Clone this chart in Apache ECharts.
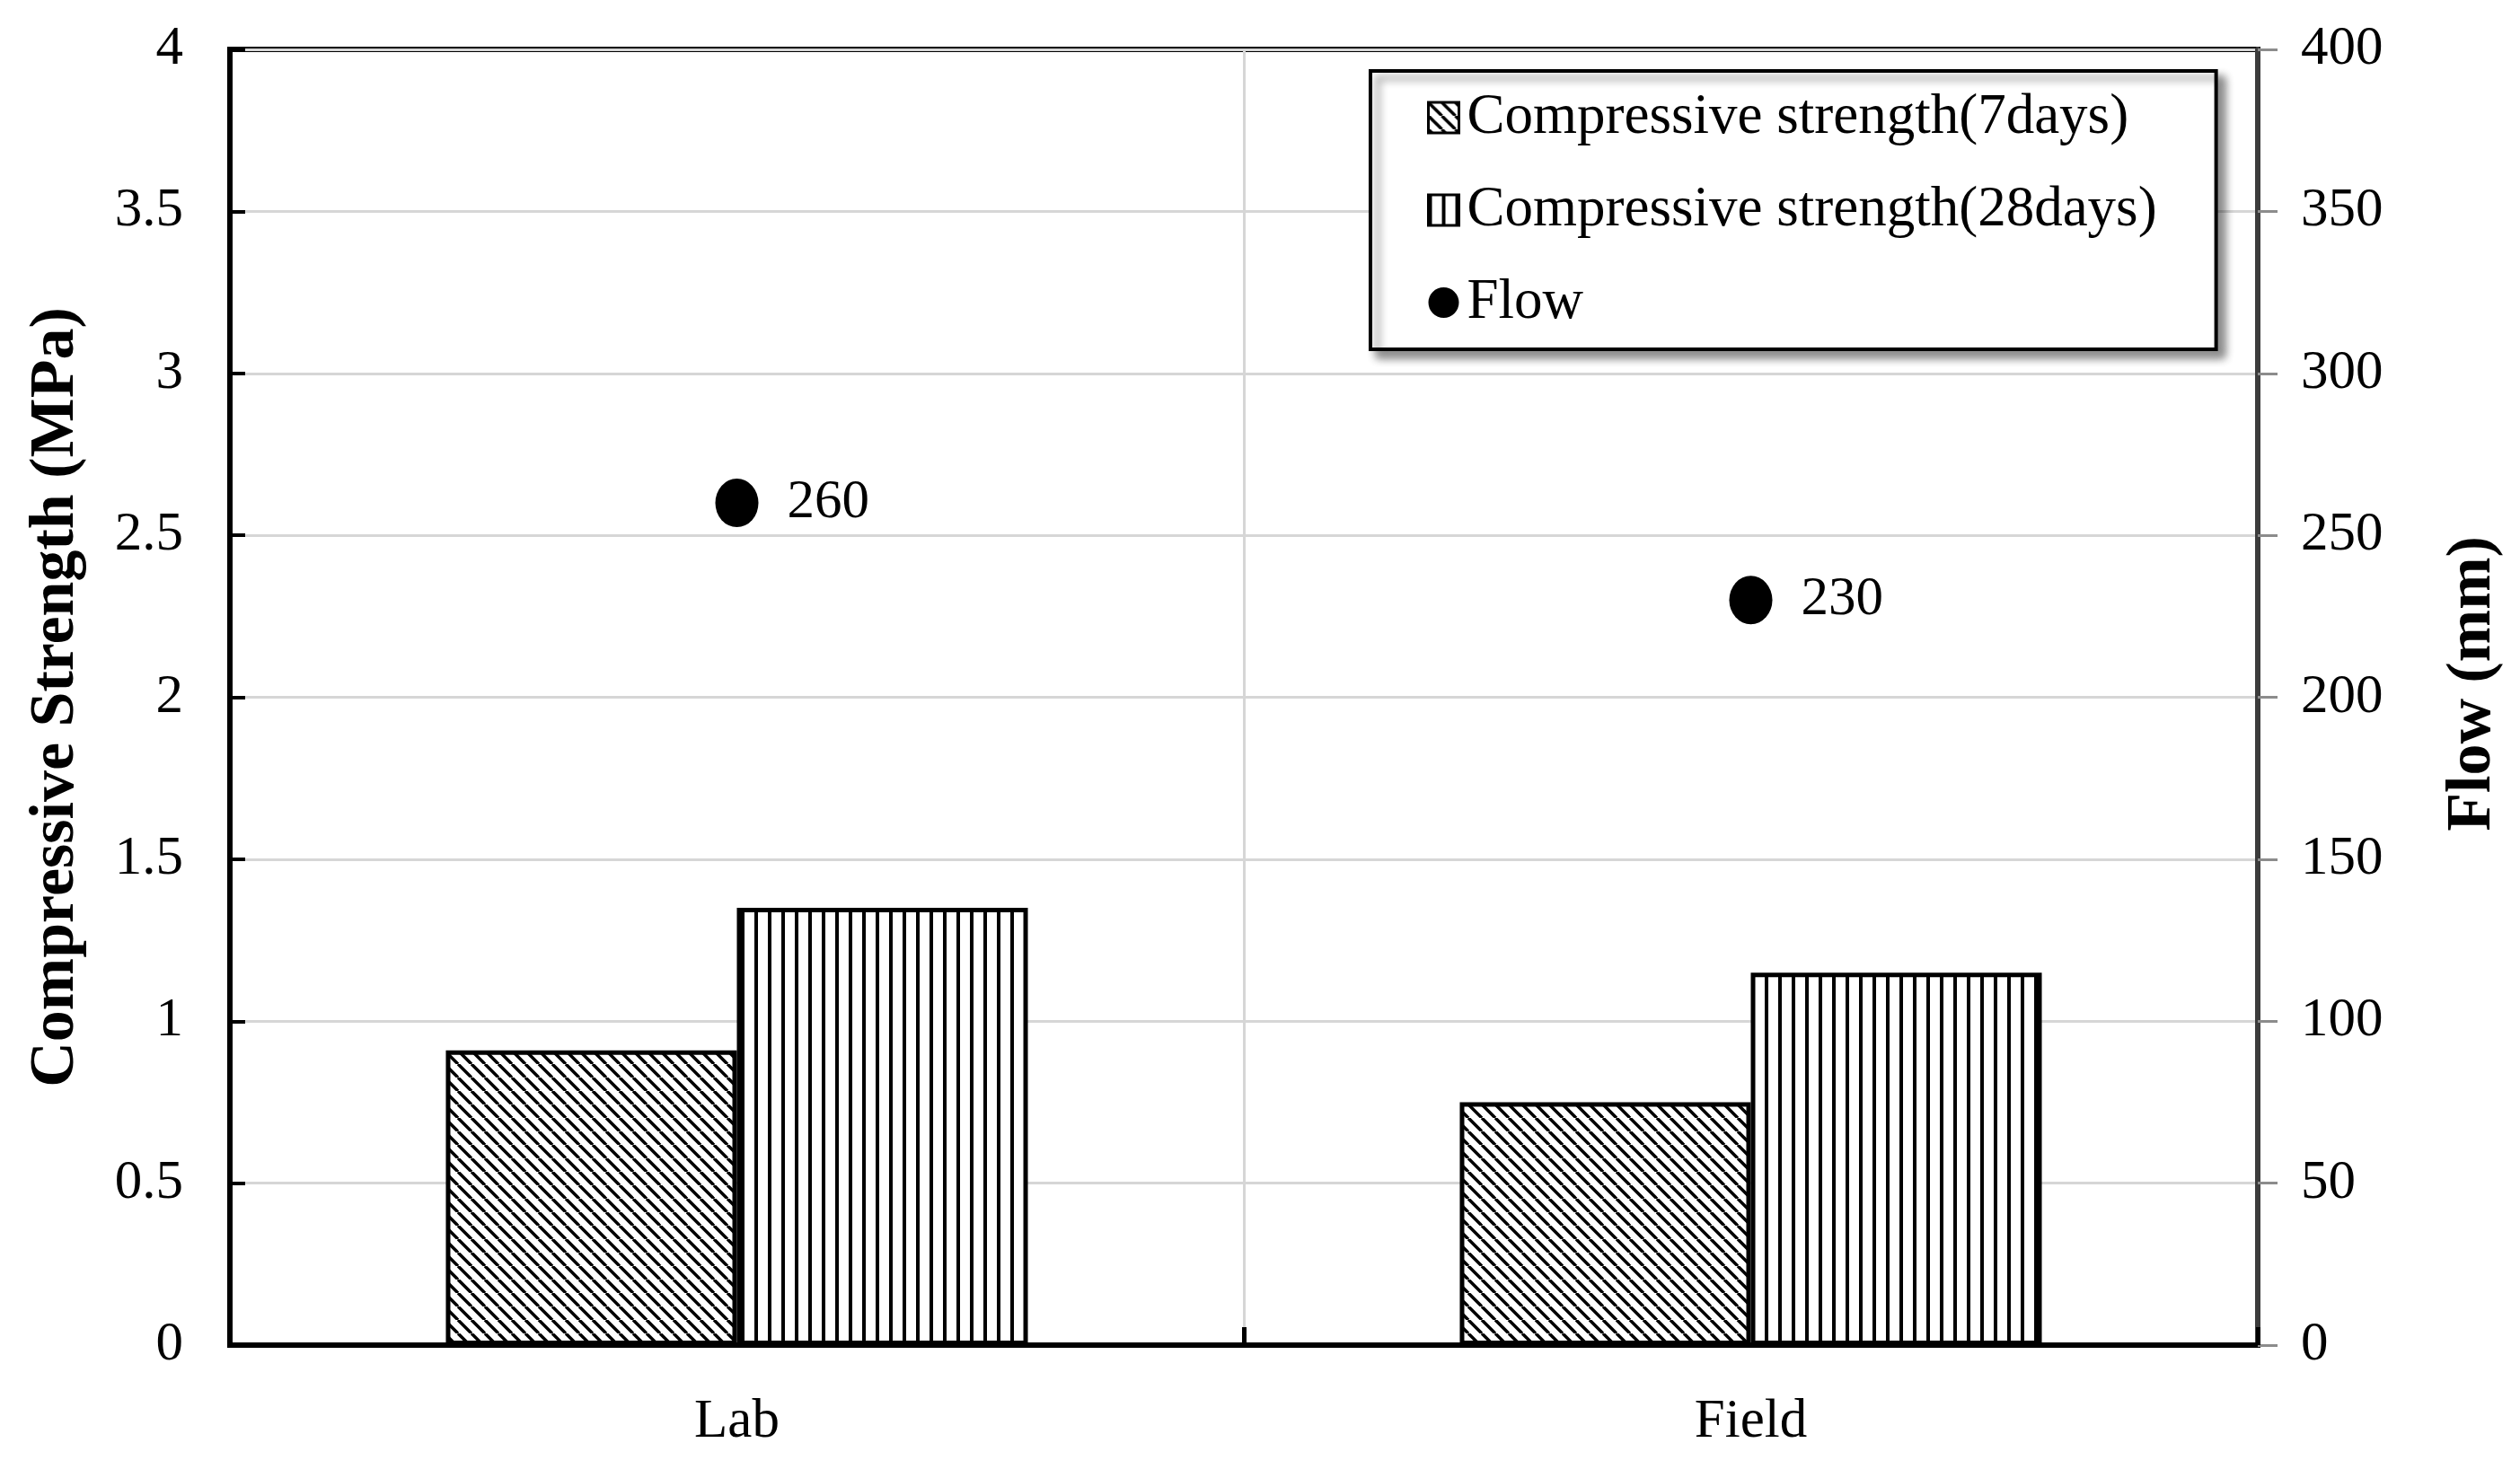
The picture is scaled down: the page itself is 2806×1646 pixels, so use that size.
<!DOCTYPE html>
<html>
<head>
<meta charset="utf-8">
<script src="https://cdn.jsdelivr.net/npm/echarts@6/dist/echarts.min.js"></script>
<style>
html,body{margin:0;padding:0;background:#fff;}
#chart{width:2806px;height:1646px;}
</style>
</head>
<body>
<div id="chart"></div>
<script>
// ---- data ----
const categories = ['Lab', 'Field'];
const strength7 = [0.91, 0.75];
const strength28 = [1.35, 1.15];
const flow = [260, 230];
const seriesNames = ['Compressive strength(7days)', 'Compressive strength(28days)', 'Flow'];

// ---- hatch patterns ----
function diagPattern() {
  const s = 15;
  const c = document.createElement('canvas');
  c.width = s; c.height = s;
  const g = c.getContext('2d');
  g.fillStyle = '#fff'; g.fillRect(0, 0, s, s);
  g.strokeStyle = '#000'; g.lineWidth = 3.5;
  for (const o of [-s, 0, s]) {
    g.beginPath(); g.moveTo(o, 0); g.lineTo(o + s, s); g.stroke();
  }
  return c;
}
function vertPattern() {
  const w = 15, h = 10;
  const c = document.createElement('canvas');
  c.width = w; c.height = h;
  const g = c.getContext('2d');
  g.fillStyle = '#fff'; g.fillRect(0, 0, w, h);
  g.fillStyle = '#000'; g.fillRect(0, 0, 4, h);
  return c;
}
const pat7 = { image: diagPattern(), repeat: 'repeat' };
const pat28 = { image: vertPattern(), repeat: 'repeat' };

const FONT = '"Liberation Serif", "Times New Roman", serif';

const chart = echarts.init(document.getElementById('chart'), null, { renderer: 'canvas' });
chart.setOption({
  animation: false,
  backgroundColor: '#fff',
  textStyle: { fontFamily: FONT, color: '#000' },
  grid: {
    left: 256, right: 292, top: 55, bottom: 148,
    show: true, borderColor: '#000', borderWidth: 6, backgroundColor: '#fff'
  },
  legend: {
    orient: 'vertical',
    left: 1526, top: 79,
    padding: [17, 66, 17, 63],
    itemWidth: 34, itemHeight: 34, itemGap: 33,
    backgroundColor: '#fff',
    borderColor: '#000', borderWidth: 4,
    shadowColor: 'rgba(0,0,0,0.45)', shadowBlur: 10, shadowOffsetX: 8, shadowOffsetY: 8,
    textStyle: { fontFamily: FONT, fontSize: 63, lineHeight: 70, color: '#000', padding: [0, 0, 0, 4] },
    data: [
      { name: seriesNames[0], icon: 'rect', itemStyle: { borderWidth: 3 } },
      { name: seriesNames[1], icon: 'rect', itemStyle: { borderWidth: 3 } },
      { name: seriesNames[2], icon: 'circle', itemStyle: { color: '#000', opacity: 1 } }
    ]
  },
  xAxis: {
    type: 'category',
    data: categories,
    axisLine: { lineStyle: { color: '#000', width: 6 } },
    axisTick: { show: true, inside: true, length: 20, lineStyle: { color: '#000', width: 5 } },
    axisLabel: { fontFamily: FONT, fontSize: 61, color: '#000', margin: 55 },
    splitLine: { show: true, lineStyle: { color: '#d6d6d6', width: 3 } }
  },
  yAxis: [
    {
      type: 'value', min: 0, max: 4, interval: 0.5,
      name: 'Compressive Strength (MPa)',
      nameLocation: 'middle', nameRotate: 90, nameGap: 158,
      nameTextStyle: { fontFamily: FONT, fontSize: 70, fontWeight: 'bold', color: '#000' },
      axisLine: { show: true, lineStyle: { color: '#000', width: 6 } },
      axisTick: { show: true, inside: true, length: 17, lineStyle: { color: '#000', width: 4 } },
      axisLabel: { fontFamily: FONT, fontSize: 61, color: '#000', margin: 52 },
      splitLine: { show: true, lineStyle: { color: '#d6d6d6', width: 3 } }
    },
    {
      type: 'value', min: 0, max: 400, interval: 50,
      position: 'right',
      name: 'Flow (mm)',
      nameLocation: 'middle', nameRotate: 90, nameGap: 205,
      nameTextStyle: { fontFamily: FONT, fontSize: 70, fontWeight: 'bold', color: '#000', padding: [0, 0, 0, 30] },
      axisLine: { show: true, lineStyle: { color: '#3c3c3c', width: 6 } },
      axisTick: { show: true, inside: false, length: 22, lineStyle: { color: '#8c8c8c', width: 3 } },
      axisLabel: { fontFamily: FONT, fontSize: 61, color: '#000', margin: 48 },
      splitLine: { show: false }
    }
  ],
  series: [
    {
      name: seriesNames[0], type: 'bar', data: strength7,
      barWidth: '28.7%', barGap: '0%',
      itemStyle: { color: pat7, borderColor: '#000', borderWidth: 5 }
    },
    {
      name: seriesNames[1], type: 'bar', data: strength28,
      barWidth: '28.7%', barGap: '0%',
      itemStyle: { color: pat28, borderColor: '#000', borderWidth: 5 }
    },
    {
      name: seriesNames[2], type: 'scatter', yAxisIndex: 1, data: flow,
      symbol: 'circle', symbolSize: [48, 54],
      itemStyle: { color: '#000', opacity: 1 },
      label: { show: true, position: 'right', distance: 32, fontFamily: FONT, fontSize: 61, color: '#000', opacity: 1 },
      z: 5
    }
  ]
});
</script>
</body>
</html>
